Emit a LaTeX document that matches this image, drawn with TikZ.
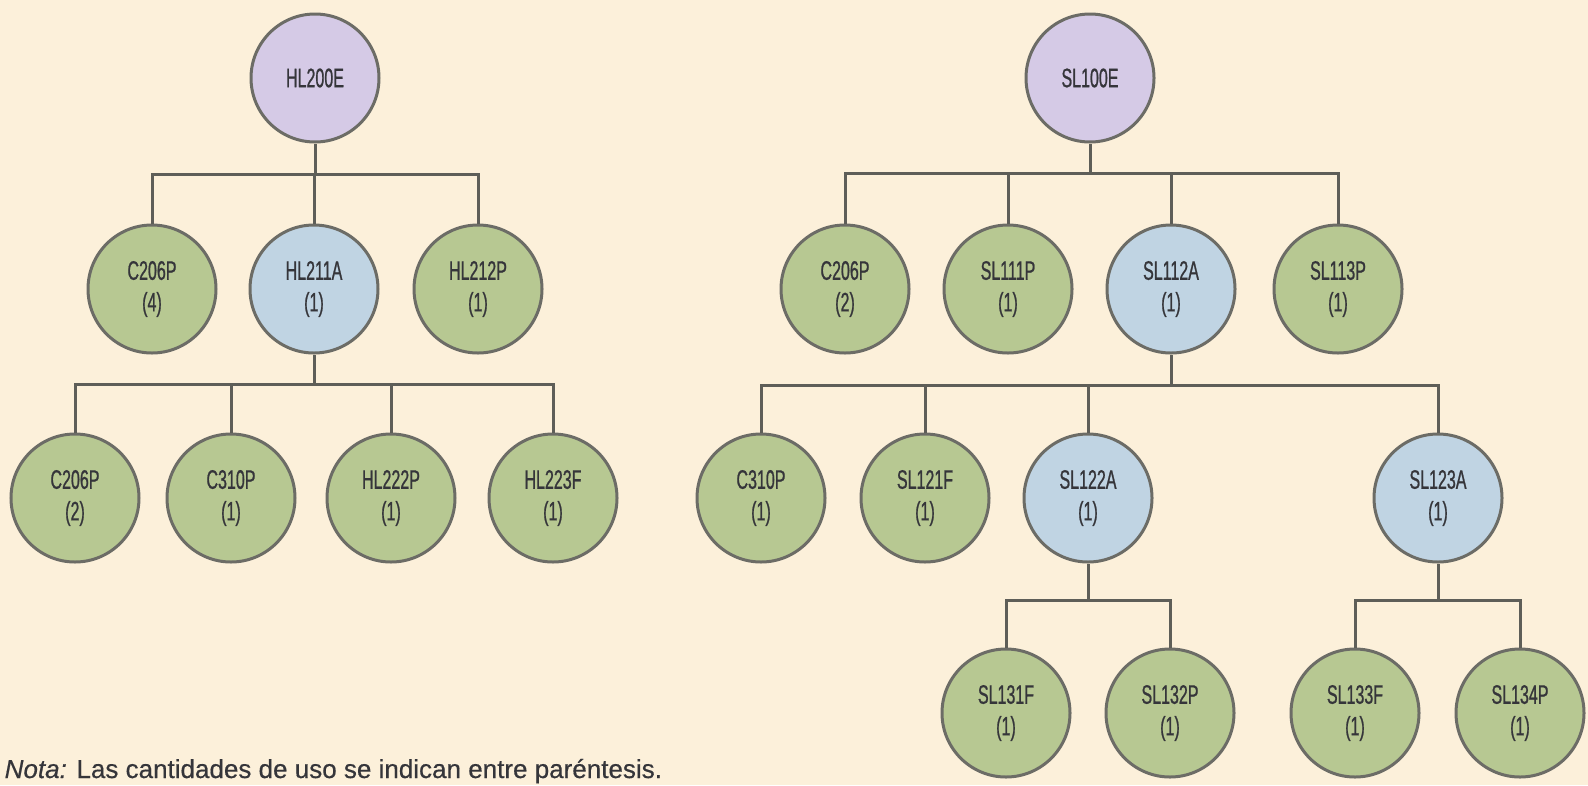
\documentclass[tikz,border=0pt]{standalone}
\usepackage{fontspec}
\setmainfont{Liberation Sans}[FakeStretch=0.6,FakeBold=0.8]
\newfontfamily\notafont{Liberation Sans}[FakeBold=0.5]
\usetikzlibrary{calc}
\definecolor{bgcream}{HTML}{FCF0DA}
\definecolor{endpurple}{HTML}{D5CAE6}
\definecolor{subblue}{HTML}{C0D4E3}
\definecolor{leafgreen}{HTML}{B7C892}
\definecolor{rimgray}{HTML}{6C6C66}
\definecolor{linkgray}{HTML}{5E5E58}
\definecolor{inkgray}{HTML}{35353A}

\begin{document}
\begin{tikzpicture}[x=1mm,y=-1mm,
    part/.style={circle, draw=rimgray, line width=0.3mm, minimum size=12.8mm,
        inner sep=0pt, align=center, text=inkgray,
        font=\fontsize{7.6}{9}\selectfont},
    endpart/.style={part, fill=endpurple},
    subpart/.style={part, fill=subblue},
    leaf/.style={part, fill=leafgreen},
    link/.style={draw=linkgray, line width=0.3mm}]

    % background and frame
    \fill[bgcream] (0,0) rectangle (158.8,78.5);
    \useasboundingbox (0,0) rectangle (158.8,78.5);

    % HL200E tree
    \node[endpart] (hl200e) at (31.5,7.8) {HL200E};
    \node[leaf]    (hlc206) at (15.2,28.9) {C206P\\(4)};
    \node[subpart] (hl211a) at (31.4,28.9) {HL211A\\(1)};
    \node[leaf]    (hl212p) at (47.8,28.9) {HL212P\\(1)};
    \node[leaf]    (hlc206b) at (7.5,49.8) {C206P\\(2)};
    \node[leaf]    (hlc310) at (23.1,49.8) {C310P\\(1)};
    \node[leaf]    (hl222p) at (39.1,49.8) {HL222P\\(1)};
    \node[leaf]    (hl223f) at (55.3,49.8) {HL223F\\(1)};

    % SL100E tree
    \node[endpart] (sl100e) at (109.0,7.8) {SL100E};
    \node[leaf]    (slc206) at (84.5,28.9) {C206P\\(2)};
    \node[leaf]    (sl111p) at (100.8,28.9) {SL111P\\(1)};
    \node[subpart] (sl112a) at (117.1,28.9) {SL112A\\(1)};
    \node[leaf]    (sl113p) at (133.8,28.9) {SL113P\\(1)};
    \node[leaf]    (slc310) at (76.1,49.8) {C310P\\(1)};
    \node[leaf]    (sl121f) at (92.5,49.8) {SL121F\\(1)};
    \node[subpart] (sl122a) at (108.8,49.8) {SL122A\\(1)};
    \node[subpart] (sl123a) at (143.8,49.8) {SL123A\\(1)};
    \node[leaf]    (sl131f) at (100.6,71.3) {SL131F\\(1)};
    \node[leaf]    (sl132p) at (117.0,71.3) {SL132P\\(1)};
    \node[leaf]    (sl133f) at (135.5,71.3) {SL133F\\(1)};
    \node[leaf]    (sl134p) at (152.0,71.3) {SL134P\\(1)};

    % bar junctions
    \coordinate (hlbar)  at ($(hl200e)+(0,9.6)$);
    \coordinate (hlbarb) at ($(hl211a)+(0,9.5)$);
    \coordinate (slbar)  at ($(sl100e)+(0,9.5)$);
    \coordinate (slbarb) at ($(sl112a)+(0,9.6)$);
    \coordinate (slbarc) at ($(sl122a)+(0,10.2)$);
    \coordinate (slbard) at ($(sl123a)+(0,10.2)$);

    % links
    \draw[link] (hl200e) -- (hlbar);
    \foreach \c in {hlc206,hl211a,hl212p}
        \draw[link] (hlbar) -| (\c);
    \draw[link] (hl211a) -- (hlbarb);
    \foreach \c in {hlc206b,hlc310,hl222p,hl223f}
        \draw[link] (hlbarb) -| (\c);
    \draw[link] (sl100e) -- (slbar);
    \foreach \c in {slc206,sl111p,sl112a,sl113p}
        \draw[link] (slbar) -| (\c);
    \draw[link] (sl112a) -- (slbarb);
    \foreach \c in {slc310,sl121f,sl122a,sl123a}
        \draw[link] (slbarb) -| (\c);
    \draw[link] (sl122a) -- (slbarc);
    \foreach \c in {sl131f,sl132p}
        \draw[link] (slbarc) -| (\c);
    \draw[link] (sl123a) -- (slbard);
    \foreach \c in {sl133f,sl134p}
        \draw[link] (slbard) -| (\c);

    % note
    \node[anchor=base west, inner sep=0pt, text=inkgray,
        font=\notafont\fontsize{7.4}{8}\selectfont] (nota) at (0.4,77.8)
        {\textit{Nota:} Las cantidades de uso se indican entre paréntesis.};
\end{tikzpicture}
\end{document}
